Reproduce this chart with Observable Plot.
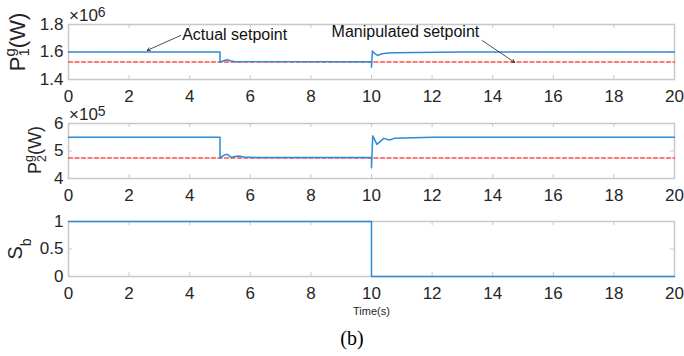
<!DOCTYPE html>
<html>
<head>
<meta charset="utf-8">
<script src="https://cdn.jsdelivr.net/npm/d3@7"></script>
<script src="https://cdn.jsdelivr.net/npm/@observablehq/plot@0.6"></script>
<style>
  html, body { margin: 0; padding: 0; background: #fff; }
  #wrap { position: relative; width: 684px; height: 356px; overflow: hidden; font-family: "Liberation Sans", Arial, sans-serif; color: #262626; }
  #wrap svg { position: absolute; left: 0; }
  .exp { position: absolute; font-size: 17px; line-height: 17px; white-space: nowrap; }
  .exp sup { font-size: 0.82em; position: relative; top: -0.25em; vertical-align: baseline; }
  .txt { position: absolute; white-space: nowrap; transform: translate(-50%, -50%); line-height: 1; }
</style>
</head>
<body>
<div id="wrap"></div>
<script>
// ---------- data ----------
const xTicks = [0, 2, 4, 6, 8, 10, 12, 14, 16, 18, 20];

// Panel 1: P1^g (W)
const t1 = [0, 5, 5, 5.1, 5.23, 5.35, 5.5, 5.8, 10, 10, 10.03, 10.1, 10.2, 10.35, 10.55, 10.8, 11.5, 13, 20];
const p1 = [1.6e6, 1.6e6, 1.525e6, 1.535e6, 1.543e6, 1.536e6, 1.529e6, 1.53e6, 1.53e6, 1.49e6, 1.608e6, 1.59e6, 1.575e6, 1.588e6, 1.593e6, 1.594e6, 1.596e6, 1.6e6, 1.6e6];
const ref1T = [0, 20];
const ref1 = [1.527e6, 1.527e6];
const y1Ticks = [1.4e6, 1.6e6, 1.8e6];

// Panel 2: P2^g (W)
const t2 = [0, 5, 5, 5.12, 5.24, 5.37, 5.5, 5.62, 5.79, 6.2, 10, 10, 10.04, 10.18, 10.4, 10.6, 10.75, 12, 20];
const p2 = [5.5e5, 5.5e5, 4.74e5, 4.84e5, 4.88e5, 4.77e5, 4.8e5, 4.82e5, 4.78e5, 4.765e5, 4.76e5, 4.39e5, 5.55e5, 5.24e5, 5.46e5, 5.4e5, 5.46e5, 5.5e5, 5.5e5];
const ref2T = [0, 20];
const ref2 = [4.745e5, 4.745e5];
const y2Ticks = [4e5, 5e5, 6e5];

// Panel 3: S_b
const t3 = [0, 10, 10, 20];
const sb = [1, 1, 0, 0];
const y3Ticks = [0, 0.5, 1];

// Annotations (panel 1, data units)
const annText = ["Actual setpoint", "Manipulated setpoint"];
const annX = [3.75, 11.12];
const annY = [1.725e6, 1.745e6];
const annAnchor = ["start", "middle"];
const arrX1 = [3.7, 13.65];
const arrY1 = [1.72e6, 1.684e6];
const arrX2 = [2.6, 14.72];
const arrY2 = [1.612e6, 1.525e6];

// ---------- drawing ----------
const BLUE = "#2f8ad6";
const RED = "#ff4d4d";
const GRID = "#c8c8c8";
const W = 684, H = 109, MT = 24, MB = 30, ML = 68, MR = 10;
const frameH = H - MT - MB, frameW = W - ML - MR;

const rows = (xs, ys) => xs.map((x, i) => ({x, y: ys[i]}));

function panel({top, yDomain, yTicks, yFormat, series, ref, extra = []}) {
  const marks = [
    Plot.frame({stroke: GRID, strokeWidth: 1.5}),
    Plot.tickX(xTicks, {x: d => d, stroke: GRID, strokeWidth: 1, insetTop: frameH - 4}),
    Plot.tickX(xTicks, {x: d => d, stroke: GRID, strokeWidth: 1, insetBottom: frameH - 4}),
    Plot.tickY(yTicks, {y: d => d, stroke: GRID, strokeWidth: 1, insetRight: frameW - 4}),
    Plot.tickY(yTicks, {y: d => d, stroke: GRID, strokeWidth: 1, insetLeft: frameW - 4}),
    Plot.axisX({anchor: "bottom", ticks: xTicks, tickSize: 0, tickPadding: 10, label: null, tickFormat: d => String(d)}),
    Plot.axisY({anchor: "left", ticks: yTicks, tickSize: 0, tickPadding: 5, label: null, tickFormat: yFormat}),
  ];
  if (ref) marks.push(Plot.line(ref, {x: "x", y: "y", stroke: RED, strokeWidth: 1.5, strokeDasharray: "4,2.5"}));
  marks.push(Plot.line(series, {x: "x", y: "y", stroke: BLUE, strokeWidth: 1.5, curve: "linear"}));
  marks.push(...extra);
  const svg = Plot.plot({
    width: W, height: H, marginTop: MT, marginBottom: MB, marginLeft: ML, marginRight: MR,
    x: {domain: [0, 20], axis: null},
    y: {domain: yDomain, axis: null},
    style: {background: "transparent", overflow: "visible", fontFamily: "'Liberation Sans', Arial, sans-serif", fontSize: "17px", color: "#262626"},
    marks
  });
  svg.style.top = top + "px";
  return svg;
}

const wrap = document.getElementById("wrap");

const ann = annText.map((t, i) => ({t, x: annX[i], y: annY[i], a: annAnchor[i], x1: arrX1[i], y1: arrY1[i], x2: arrX2[i], y2: arrY2[i]}));

wrap.appendChild(panel({
  top: 0, yDomain: [1.4e6, 1.8e6], yTicks: y1Ticks, yFormat: d => (d / 1e6).toFixed(1),
  series: rows(t1, p1), ref: rows(ref1T, ref1),
  extra: [
    Plot.arrow(ann, {x1: "x1", y1: "y1", x2: "x2", y2: "y2", stroke: "#222", strokeWidth: 0.8, headLength: 6, bend: 0}),
    Plot.text(ann.filter(d => d.a === "start"), {x: "x", y: "y", text: "t", textAnchor: "start", fontSize: 16, fill: "#111"}),
    Plot.text(ann.filter(d => d.a === "middle"), {x: "x", y: "y", text: "t", textAnchor: "middle", fontSize: 16, fill: "#111"})
  ]
}));
wrap.appendChild(panel({
  top: 98.7, yDomain: [4e5, 6e5], yTicks: y2Ticks, yFormat: d => String(d / 1e5),
  series: rows(t2, p2), ref: rows(ref2T, ref2)
}));
wrap.appendChild(panel({
  top: 196.5, yDomain: [0, 1], yTicks: y3Ticks, yFormat: d => String(d),
  series: rows(t3, sb), ref: null
}));

// Axis titles (rotated, with TeX-like sub/superscripts)
wrap.insertAdjacentHTML("beforeend", `
<svg width="684" height="356" style="position:absolute;left:0;top:0;overflow:visible;pointer-events:none" font-family="'Liberation Sans', Arial, sans-serif" fill="#262626">
  <text transform="translate(25,42) rotate(-90)" text-anchor="middle" font-size="22">P<tspan font-size="15" dy="-10">g</tspan><tspan font-size="15" dx="-8.3" dy="14">1</tspan><tspan dy="-4">(W)</tspan></text>
  <text transform="translate(41,150) rotate(-90)" text-anchor="middle" font-size="18">P<tspan font-size="12.5" dy="-8">g</tspan><tspan font-size="12.5" dx="-7" dy="12.5">2</tspan><tspan dy="-4.5">(W)</tspan></text>
  <text transform="translate(22,249) rotate(-90)" text-anchor="middle" font-size="20">S<tspan font-size="14" dy="9">b</tspan></text>
</svg>
  <div class="exp" style="left:69px; top:6.5px">×10<sup>6</sup></div>
  <div class="exp" style="left:69px; top:105.5px">×10<sup>5</sup></div>
  <div class="txt" style="left:371.5px; top:310.5px; font-size:11px">Time(s)</div>
  <div class="txt" style="left:352px; top:338px; font-size:20px; font-family:'Liberation Serif','Times New Roman',serif; color:#000">(b)</div>
`);
</script>
</body>
</html>
